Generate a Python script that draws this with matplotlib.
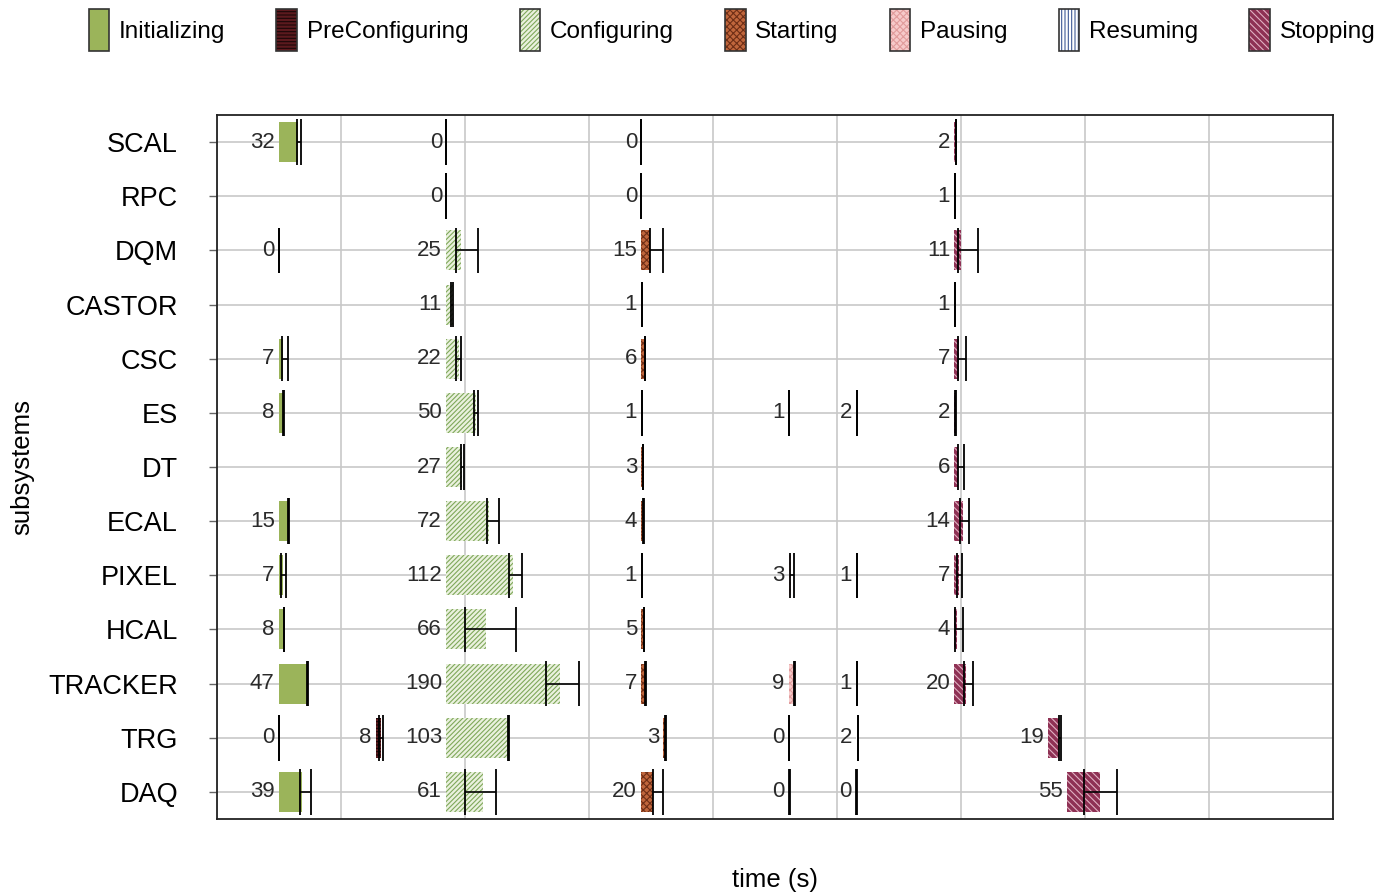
import numpy as np
import matplotlib.pyplot as plt
from matplotlib.patches import Patch
from matplotlib.legend_handler import HandlerTuple

plt.rcParams['font.family'] = ['Liberation Sans', 'DejaVu Sans']
plt.rcParams['hatch.linewidth'] = 0.8

nan = np.nan

subsystems = ["SCAL", "RPC", "DQM", "CASTOR", "CSC", "ES", "DT",
              "ECAL", "PIXEL", "HCAL", "TRACKER", "TRG", "DAQ"]
states = ["Initializing", "PreConfiguring", "Configuring", "Starting",
          "Pausing", "Resuming", "Stopping"]

# per state: start time, mean duration (bar + label), min and max duration
init_start = [103, 103, 103, 103, 103, 103, 103, 103, 103, 103, 103, 103, 103]
init_mean = [32, nan, 0, nan, 7, 8, nan, 15, 7, 8, 47, 0, 39]
init_min = [30.5, nan, 0, nan, 5, 7.5, nan, 15, 3.3, 8, 47, 0, 36]
init_max = [36.7, nan, 0, nan, 15, 9, nan, 17, 11.7, 8, 49, 0, 53]

precfg_start = [264.5] * 13
precfg_mean = [nan, nan, nan, nan, nan, nan, nan, nan, nan, nan, nan, 8, nan]
precfg_min = [nan, nan, nan, nan, nan, nan, nan, nan, nan, nan, nan, 6, nan]
precfg_max = [nan, nan, nan, nan, nan, nan, nan, nan, nan, nan, nan, 12.2, nan]

cfg_start = [382, 382, 382, 382, 382, 382, 382, 382, 382, 382, 382, 382, 382]
cfg_mean = [0, 0, 25, 11, 22, 50, 27, 72, 112, 66, 190, 103, 61]
cfg_min = [0, 0, 15.5, 7.5, 16.7, 47, 24.5, 67.8, 104, 31.7, 166.7, 103, 32]
cfg_max = [0, 0, 53, 11, 24.5, 53, 29, 87.8, 127, 116, 220.5, 105, 83]

start_start = [707, 707, 707, 707, 707, 707, 707, 707, 707, 707, 707, 744, 707]
start_mean = [0, 0, 15, 1, 6, 1, 3, 4, 1, 5, 7, 3, 20]
start_min = [0, 0, 13.9, 1, 5.5, 1, 3, 3.5, 1, 5, 6.5, 3, 19]
start_max = [0, 0, 36.7, 1, 6.5, 1, 3, 5, 1, 5, 7.5, 4.5, 36.7]

pause_start = [953] * 13
pause_mean = [nan, nan, nan, nan, nan, 1, nan, nan, 3, nan, 9, 0, 0]
pause_min = [nan, nan, nan, nan, nan, 1, nan, nan, 2, nan, 8.5, 0, 0.5]
pause_max = [nan, nan, nan, nan, nan, 1, nan, nan, 9, nan, 10, 1, 1.5]

resume_start = [1065] * 13
resume_mean = [nan, nan, nan, nan, nan, 2, nan, nan, 1, nan, 1, 2, 0]
resume_min = [nan, nan, nan, nan, nan, 2, nan, nan, 1, nan, 1, 2.5, 0.5]
resume_max = [nan, nan, nan, nan, nan, 2, nan, nan, 1, nan, 1, 4, 1.5]

stop_start = [1229, 1229, 1229, 1229, 1229, 1229, 1229, 1229, 1229, 1229, 1229, 1385, 1417]
stop_mean = [2, 1, 11, 1, 7, 2, 6, 14, 7, 4, 20, 19, 55]
stop_min = [2, 1, 6.4, 1, 6.4, 1.5, 5.5, 9.2, 4.7, 1, 16.3, 18.3, 27.3]
stop_max = [2, 1, 38.7, 1, 19.7, 3, 16.5, 24.2, 12, 14.7, 31.4, 22.2, 82.8]

series = [
    (init_start, init_mean, init_min, init_max),
    (precfg_start, precfg_mean, precfg_min, precfg_max),
    (cfg_start, cfg_mean, cfg_min, cfg_max),
    (start_start, start_mean, start_min, start_max),
    (pause_start, pause_mean, pause_min, pause_max),
    (resume_start, resume_mean, resume_min, resume_max),
    (stop_start, stop_mean, stop_min, stop_max),
]

# face colour, hatch, hatch colour
styles = [
    ("#9BB45A", None, "#9BB45A"),
    ("#5C1A1E", "-----", "#1A0808"),
    ("#EAF1DE", "///////", "#7FA85A"),
    ("#C0663C", "xxxxx", "#6E2E16"),
    ("#F6CACA", "xxxxx", "#E09C9C"),
    ("#FFFFFF", "|||||", "#3F5A96"),
    ("#8E3154", "\\\\\\\\\\", "#E0B0C2"),
]

x_max = 1860
n_grid = 9

fig = plt.figure(figsize=(13.82, 8.96), dpi=100)
ax = fig.add_axes([217 / 1382, 77 / 896, 1116 / 1382, 704 / 896])

ypos = np.arange(len(subsystems))
bar_h = 0.74
cap_h = 0.42

for (st, mean, mn, mx), (fc, hatch, hc) in zip(series, styles):
    for i in range(len(subsystems)):
        if np.isnan(mean[i]):
            continue
        s = st[i]
        if mean[i] > 0:
            ax.barh(ypos[i], mean[i], left=s, height=bar_h, color=fc,
                    hatch=hatch, edgecolor=hc, linewidth=0, zorder=2)
        lo, hi = s + mn[i], s + mx[i]
        ax.hlines(ypos[i], lo, hi, color="black", lw=1.2, zorder=3)
        ax.vlines([lo, hi], ypos[i] - cap_h, ypos[i] + cap_h,
                  color="black", lw=1.3, zorder=3)
        ax.annotate(f"{mean[i]:g}", (s, ypos[i]), xytext=(-3, 0),
                    textcoords="offset points", ha="right", va="center",
                    fontsize=16, color="#2A2A2A", zorder=4)

ax.set_xlim(0, x_max)
ax.set_ylim(len(subsystems) - 0.5, -0.5)
ax.set_xticks(np.linspace(0, x_max, n_grid + 1))
ax.set_xticklabels([])
ax.tick_params(axis="x", length=0)
ax.set_yticks(ypos)
ax.set_yticklabels(subsystems)
ax.tick_params(axis="y", length=6, width=1, color="#666666",
               labelsize=19.5, pad=22)
ax.grid(True, color="#C8C8C8", lw=1.2)
ax.set_axisbelow(True)
for sp in ax.spines.values():
    sp.set_linewidth(1.3)
    sp.set_color("#222222")

fig.text(22 / 1382, 1 - 467 / 896, "subsystems", rotation=90,
         ha="center", va="center", fontsize=18.5)
fig.text(775 / 1382, 1 - 880 / 896, "time (s)", ha="center", va="center",
         fontsize=18.5)

handles = []
for fc, hatch, hc in styles:
    fill = Patch(facecolor=fc, hatch=hatch, edgecolor=hc, linewidth=0)
    edge = Patch(facecolor="none", edgecolor="#333333", linewidth=1.2)
    handles.append((fill, edge))

fig.legend(handles, states, loc="center", bbox_to_anchor=(732 / 1382, 1 - 30 / 896),
           ncol=7, frameon=False, fontsize=17.5, handlelength=0.85,
           handleheight=2.3, handletextpad=0.4, columnspacing=2.1,
           handler_map={tuple: HandlerTuple(ndivide=1)})

fig.savefig("out.png", dpi=100)
